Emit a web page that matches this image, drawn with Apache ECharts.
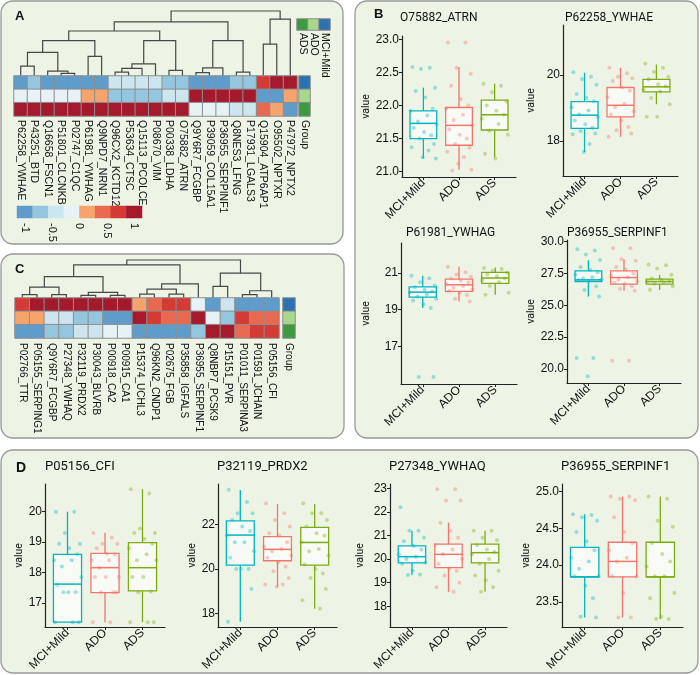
<!DOCTYPE html>
<html>
<head>
<meta charset="utf-8">
<script src="https://cdn.jsdelivr.net/npm/echarts@6/dist/echarts.min.js"></script>
<style>
html, body { margin: 0; padding: 0; background: #fff; }
#main { width: 700px; height: 675px; }
</style>
</head>
<body>
<div id="main"></div>
<script>
// ---- data ----
var GROUPS = ['MCI+Mild', 'ADO', 'ADS'];

// heatmap A (rows: MCI+Mild, ADO, ADS)
var heatA_labels = ['P62258_YWHAE', 'P43251_BTD', 'Q16658_FSCN1', 'P51801_CLCNKB', 'P02747_C1QC', 'P61981_YWHAG',
    'Q9NPD7_NRN1', 'Q96CX2_KCTD12', 'P53634_CTSC', 'Q15113_PCOLCE', 'P08670_VIM', 'P00338_LDHA', 'O75882_ATRN',
    'Q9Y6R7_FCGBP', 'P39059_COL15A1', 'P36955_SERPINF1', 'Q8NES3_LFNG', 'P17931_LGALS3', 'Q15904_ATP6AP1',
    'O95502_NPTXR', 'P47972_NPTX2'];
var heatA_mci = [-0.95, -0.7, -0.95, -0.95, -0.95, -0.95, -0.95, -0.4, -0.4, -0.4, -0.4, -0.7, -0.7, -0.95, -0.95, -0.95, -0.7, -0.7, 0.7, 0.95, 0.95];
var heatA_ado = [-0.15, -0.15, -0.15, -0.15, -0.15, 0.15, 0.15, -0.7, -0.7, -0.7, -0.7, -0.4, -0.4, 0.95, 0.95, 0.95, 0.95, 0.95, -0.95, -0.95, 0.15];
var heatA_ads = [0.95, 0.95, 0.95, 0.95, 0.95, 0.95, 0.95, 0.95, 0.95, 0.95, 0.95, 0.95, 0.95, -0.15, -0.15, -0.15, -0.4, -0.4, 0.4, 0.15, -0.95];
// merge tree: [height, left, right], leaves are column indexes
var treeA = [1.0,
    [0.833,
        [0.692,
            [0.545,
                [0.364, [0.152, 0, 1], [0.076, 2, [0.040, 3, 4]]],
                [0.303, 5, 6]],
            [0.545,
                [0.187, [0.116, [0.061, 7, 8], 9], 10],
                [0.086, 11, 12]]],
        [0.545,
            [0.126, [0.051, 13, 14], 15],
            [0.061, 16, 17]]],
    [0.874, [0.490, 18, 19], 20]];

// heatmap C
var heatC_labels = ['P02766_TTR', 'P05155_SERPING1', 'Q9Y6R7_FCGBP', 'P27348_YWHAQ', 'P32119_PRDX2', 'P30043_BLVRB',
    'P00918_CA2', 'P00915_CA1', 'P15374_UCHL3', 'Q96KN2_CNDP1', 'P02675_FGB', 'P35858_IGFALS', 'P36955_SERPINF1',
    'Q8NBP7_PCSK9', 'P15151_PVR', 'P01011_SERPINA3', 'P01591_JCHAIN', 'P05156_CFI'];
var heatC_mci = [0.7, 0.95, 0.95, 0.95, 0.95, 0.95, 0.95, 0.95, 0.15, 0.4, 0.7, 0.7, -0.15, -0.95, -0.4, -0.95, -0.95, -0.95];
var heatC_ado = [0.15, 0.15, -0.4, -0.4, -0.7, -0.7, -0.95, -0.95, 0.95, 0.7, 0.4, 0.4, 0.95, -0.15, -0.7, 0.7, 0.4, 0.4];
var heatC_ads = [-0.95, -0.95, -0.7, -0.7, -0.4, -0.4, -0.15, -0.15, -0.95, -0.95, -0.95, -0.95, -0.7, 0.95, 0.95, 0.4, 0.7, 0.7];
var treeC = [1.0,
    [0.870,
        [0.565,
            [0.287, [0.087, 0, 1], [0.087, 2, 3]],
            [0.148, [0.070, 4, 5], [0.070, 6, 7]]],
        [0.374,
            [0.235, [0.104, 8, 9], [0.104, 10, 11]],
            12]],
    [0.652,
        [0.304, 13, 14],
        [0.191, [0.087, 15, 16], 17]]];

// colour key
var keyValues = [-0.875, -0.625, -0.375, -0.125, 0.125, 0.375, 0.625, 0.875];
var keyTicks = [-1, -0.5, 0, 0.5, 1];

// box plots: [min, q1, median, q3, max] per group, and the points
var statsB1 = [[21.20, 21.50, 21.73, 21.92, 22.27], [21.03, 21.40, 21.70, 21.97, 22.58], [21.22, 21.63, 21.86, 22.08, 22.33]];
var pointsB1 = [
    [22.58, 22.57, 22.55, 22.27, 22.22, 22.12, 21.95, 21.92, 21.85, 21.76, 21.72, 21.66, 21.6, 21.55, 21.5, 21.42, 21.37, 21.32, 21.22, 21.2],
    [22.95, 22.95, 22.57, 22.48, 22.3, 22.1, 22.0, 21.95, 21.86, 21.78, 21.7, 21.64, 21.56, 21.5, 21.42, 21.36, 21.3, 21.22, 21.12, 21.03, 21.02],
    [22.33, 22.3, 22.2, 22.06, 22.0, 21.92, 21.86, 21.8, 21.72, 21.62, 21.56, 21.27, 21.2]];
var ticksB1 = [21.0, 21.5, 22.0, 22.5, 23.0];

var statsB2 = [[17.66, 18.38, 18.78, 19.19, 20.07], [18.12, 18.73, 19.08, 19.62, 20.22], [19.11, 19.49, 19.64, 19.87, 20.32]];
var pointsB2 = [
    [20.08, 19.95, 19.88, 19.7, 19.42, 19.3, 19.2, 19.02, 18.92, 18.8, 18.72, 18.62, 18.5, 18.4, 18.3, 18.22, 18.2, 17.9, 17.66],
    [20.22, 20.05, 19.95, 19.9, 19.82, 19.62, 19.52, 19.32, 19.12, 19.02, 18.9, 18.8, 18.62, 18.42, 18.32, 18.22, 18.12],
    [20.35, 20.22, 20.1, 19.95, 19.87, 19.72, 19.66, 19.56, 19.5, 19.3, 19.11, 18.73, 18.73]];
var ticksB2 = [18, 20];

var statsB3 = [[19.09, 19.69, 19.96, 20.25, 20.85], [19.45, 20.0, 20.36, 20.67, 21.35], [19.82, 20.44, 20.73, 21.04, 21.3]];
var pointsB3 = [
    [20.85, 20.72, 20.5, 20.32, 20.22, 20.1, 20.0, 19.92, 19.82, 19.72, 19.6, 19.5, 19.3, 19.1, 15.33, 15.33],
    [21.35, 21.05, 20.92, 20.8, 20.7, 20.6, 20.5, 20.42, 20.3, 20.2, 20.1, 20.02, 19.92, 19.8, 19.6, 19.45],
    [21.28, 21.22, 21.12, 21.02, 20.92, 20.82, 20.72, 20.62, 20.5, 20.3, 19.92, 19.82]];
var ticksB3 = [17, 19, 21];

var statsB4 = [[25.69, 26.87, 27.0, 27.7, 28.54], [26.14, 26.66, 27.18, 27.7, 28.62], [26.21, 26.66, 26.87, 27.05, 27.39]];
var pointsB4 = [
    [29.4, 29.3, 29.0, 28.55, 28.0, 27.8, 27.6, 27.4, 27.2, 27.1, 27.02, 26.98, 26.9, 26.5, 26.2, 25.7, 20.86, 20.86, 19.43],
    [29.48, 29.48, 28.62, 28.5, 28.0, 27.8, 27.5, 27.3, 27.2, 27.02, 26.9, 26.8, 26.7, 26.5, 26.3, 26.15, 20.65, 20.65],
    [28.2, 28.15, 27.9, 27.4, 27.1, 27.0, 26.9, 26.86, 26.8, 26.7, 26.5, 26.22]];
var ticksB4 = [20.0, 22.5, 25.0, 27.5, 30.0];

var statsD1 = [[16.37, 16.37, 17.62, 18.6, 20.0], [16.37, 17.34, 18.16, 18.63, 19.31], [16.37, 17.4, 18.16, 18.98, 20.74]];
var pointsD1 = [
    [20.0, 20.0, 19.3, 18.95, 18.95, 18.8, 18.6, 18.4, 18.4, 18.2, 17.85, 17.6, 17.35, 17.35, 17.35, 16.37, 16.37, 16.37],
    [19.3, 19.15, 18.95, 18.95, 18.8, 18.62, 18.6, 18.4, 18.4, 18.15, 17.85, 17.85, 17.85, 17.35, 17.35, 17.35, 16.37, 16.37],
    [20.74, 20.6, 19.45, 19.3, 19.3, 19.1, 18.95, 18.8, 18.6, 18.4, 18.4, 17.85, 17.85, 17.38, 17.35, 16.37, 16.37, 16.37]];
var ticksD1 = [17, 18, 19, 20];

var statsD2 = [[17.63, 20.17, 21.52, 22.16, 23.54], [19.2, 20.37, 20.88, 21.45, 22.91], [18.22, 20.17, 21.19, 21.87, 22.91]];
var pointsD2 = [
    [23.55, 23.0, 22.5, 22.5, 22.2, 21.9, 21.7, 21.5, 21.2, 21.2, 20.8, 20.5, 20.0, 20.0, 20.0, 19.1, 17.63],
    [22.95, 22.5, 22.2, 21.9, 21.6, 21.5, 21.2, 21.0, 20.9, 20.8, 20.6, 20.5, 20.3, 20.1, 19.9, 19.6, 19.3, 19.3, 19.2],
    [22.95, 22.5, 22.5, 22.2, 21.9, 21.6, 21.5, 21.2, 20.9, 20.8, 20.6, 20.2, 20.0, 19.8, 19.6, 19.1, 18.6, 18.22]];
var ticksD2 = [18, 20, 22];

var statsD3 = [[19.32, 19.84, 20.1, 20.56, 21.2], [18.61, 19.64, 20.2, 20.63, 21.54], [18.61, 19.84, 20.27, 20.63, 21.2]];
var pointsD3 = [
    [22.19, 21.2, 21.2, 20.9, 20.75, 20.55, 20.4, 20.2, 20.1, 20.0, 19.85, 19.8, 19.5, 19.35, 19.32],
    [22.96, 22.96, 22.48, 22.48, 21.54, 21.2, 20.9, 20.6, 20.4, 20.2, 20.0, 19.8, 19.6, 19.5, 19.3, 19.0, 18.8, 18.61],
    [21.2, 21.2, 20.9, 20.8, 20.6, 20.4, 20.3, 20.2, 20.0, 19.8, 19.5, 19.3, 19.1, 18.8, 18.61]];
var ticksD3 = [18, 19, 20, 21, 22, 23];

var statsD4 = [[23.29, 23.84, 23.84, 24.24, 24.69], [23.29, 23.84, 24.05, 24.31, 24.93], [23.27, 23.84, 23.84, 24.31, 24.93]];
var pointsD4 = [
    [24.69, 24.68, 24.65, 24.6, 24.45, 24.32, 24.2, 24.1, 24.05, 23.95, 23.85, 23.85, 23.72, 23.55, 23.3, 23.29],
    [24.93, 24.93, 24.9, 24.88, 24.65, 24.45, 24.3, 24.2, 24.1, 24.05, 23.85, 23.85, 23.62, 23.29, 23.29],
    [24.93, 24.9, 24.6, 24.52, 24.3, 24.15, 24.05, 23.98, 23.85, 23.85, 23.62, 23.55, 23.3, 23.27, 23.27]];
var ticksD4 = [23.5, 24.0, 24.5, 25.0];

// horizontal jitter offsets
var JITTER = [-0.31, 0.18, -0.07, 0.33, -0.22, 0.05, 0.26, -0.36, 0.11, -0.15, 0.37, -0.27,
    0.02, 0.22, -0.11, 0.3, -0.33, 0.14, -0.02, 0.35, -0.19, 0.08, -0.29, 0.24];

// ---- styles ----
var GROUP_COLORS = ['#00b5c2', '#f3756b', '#7cab12'];
var GROUP_BAR_COLORS = ['#2c72b2', '#a7d88d', '#3e9a41'];
var HEAT_COLORS = ['#5e9ccb', '#94c6df', '#cce5ef', '#e6f2f6', '#f6a36c', '#e8694f', '#d43b35', '#a5192c'];
var PANEL_FILL = '#edf4e5';
var LABEL_FONT = '"Liberation Sans Narrow", "Liberation Sans", sans-serif';
var TICK_FONT = '"Liberation Sans", Arial, sans-serif';

var myChart = echarts.init(document.getElementById('main'));

var grids = [], xAxes = [], yAxes = [], series = [], titles = [];
var heatSeries = [], groupSeries = [];

function addGrid(b) {
    grids.push({left: b.left, top: b.top, width: b.width, height: b.height, containLabel: false});
    return grids.length - 1;
}

function addHeatmap(box, labels, rows, label, target) {
    var gi = addGrid(box);
    xAxes.push({
        gridIndex: gi, type: 'category', data: labels, position: 'bottom',
        axisLine: {show: false}, axisTick: {show: false}, splitLine: {show: false},
        axisLabel: label ? {show: true, interval: 0, rotate: -90, margin: label.margin, fontSize: label.size,
            fontFamily: label.font, color: '#111'} : {show: false}
    });
    yAxes.push({gridIndex: gi, type: 'category', data: rows.map(function (r, i) { return i; }), inverse: true, show: false});
    var data = [];
    rows.forEach(function (row, r) {
        row.forEach(function (v, c) { data.push([c, r, v]); });
    });
    series.push({
        type: 'heatmap', xAxisIndex: xAxes.length - 1, yAxisIndex: yAxes.length - 1, data: data,
        itemStyle: {borderColor: '#8e8e8e', borderWidth: 1}, emphasis: {disabled: true}, silent: true
    });
    target.push(series.length - 1);
}

function flattenTree(node, segs) {
    if (typeof node === 'number') return {x: node, h: 0};
    var l = flattenTree(node[1], segs);
    var r = flattenTree(node[2], segs);
    segs.push([l.x, l.h, r.x, r.h, node[0]]);
    return {x: (l.x + r.x) / 2, h: node[0]};
}

function addDendro(box, tree, n) {
    var segs = [];
    flattenTree(tree, segs);
    var gi = addGrid(box);
    xAxes.push({gridIndex: gi, type: 'value', min: -0.5, max: n - 0.5, show: false});
    yAxes.push({gridIndex: gi, type: 'value', min: 0, max: 1, show: false});
    series.push({
        type: 'custom', xAxisIndex: xAxes.length - 1, yAxisIndex: yAxes.length - 1, data: segs, silent: true,
        renderItem: function (params, api) {
            var a = api.coord([api.value(0), api.value(1)]);
            var b = api.coord([api.value(0), api.value(4)]);
            var c = api.coord([api.value(2), api.value(4)]);
            var d = api.coord([api.value(2), api.value(3)]);
            return {type: 'polyline', shape: {points: [a, b, c, d]},
                style: {stroke: '#474747', lineWidth: 1.2, fill: null}};
        }
    });
}

function renderBox(params, api) {
    var x = api.value(0);
    var pMin = api.coord([x, api.value(1)]);
    var pQ1 = api.coord([x, api.value(2)]);
    var pMed = api.coord([x, api.value(3)]);
    var pQ3 = api.coord([x, api.value(4)]);
    var pMax = api.coord([x, api.value(5)]);
    var w = api.size([0.75, 0])[0];
    var color = GROUP_COLORS[params.dataIndex];
    return {
        type: 'group', children: [
            {type: 'line', shape: {x1: pMin[0], y1: pMin[1], x2: pQ1[0], y2: pQ1[1]}, style: {stroke: color, lineWidth: 1.3}},
            {type: 'line', shape: {x1: pQ3[0], y1: pQ3[1], x2: pMax[0], y2: pMax[1]}, style: {stroke: color, lineWidth: 1.3}},
            {type: 'rect', shape: {x: pQ3[0] - w / 2, y: pQ3[1], width: w, height: pQ1[1] - pQ3[1]},
                style: {fill: 'rgba(255,255,255,0.6)', stroke: color, lineWidth: 1.3}},
            {type: 'line', shape: {x1: pMed[0] - w / 2, y1: pMed[1], x2: pMed[0] + w / 2, y2: pMed[1]},
                style: {stroke: color, lineWidth: 1.5}}
        ]
    };
}

function addBoxPlot(p) {
    var gi = addGrid(p);
    xAxes.push({
        gridIndex: gi, type: 'value', min: 0.4, max: 3.6,
        axisLine: {show: true, onZero: false, lineStyle: {color: '#222', width: 1.2}},
        axisTick: {show: true, customValues: [1, 2, 3], length: 3, lineStyle: {color: '#222'}},
        axisLabel: {customValues: [1, 2, 3], rotate: 45, margin: 4, fontSize: 12, fontFamily: TICK_FONT, color: '#111',
            formatter: function (v) { return GROUPS[Math.round(v) - 1]; }},
        splitLine: {show: false}
    });
    yAxes.push({
        gridIndex: gi, type: 'value', min: p.yMin, max: p.yMax,
        name: 'value', nameLocation: 'middle', nameGap: p.nameGap,
        nameTextStyle: {fontSize: 10.5, fontFamily: 'Roboto, sans-serif', color: '#111'},
        axisLine: {show: true, onZero: false, lineStyle: {color: '#222', width: 1.2}},
        axisTick: {show: true, customValues: p.ticks, length: 3, lineStyle: {color: '#222'}},
        axisLabel: {customValues: p.ticks, margin: 3, fontSize: 12, fontFamily: TICK_FONT, color: '#111',
            formatter: function (v) { return v.toFixed(p.dec); }},
        splitLine: {show: false}
    });
    var xi = xAxes.length - 1, yi = yAxes.length - 1;
    series.push({
        type: 'custom', xAxisIndex: xi, yAxisIndex: yi, silent: true, renderItem: renderBox,
        data: p.stats.map(function (s, g) { return [g + 1].concat(s); })
    });
    p.points.forEach(function (vals, g) {
        series.push({
            type: 'scatter', xAxisIndex: xi, yAxisIndex: yi, silent: true, symbolSize: 4,
            itemStyle: {color: GROUP_COLORS[g], opacity: 0.38},
            data: vals.map(function (v, k) { return [g + 1 + JITTER[k % JITTER.length], v]; })
        });
    });
    titles.push({text: p.title, left: p.titleLeft, top: p.titleTop, padding: 0,
        textStyle: {fontSize: p.titleSize, fontWeight: 'normal', fontFamily: 'Roboto, sans-serif', color: '#111'}});
}

// ---- panel A ----
addDendro({left: 14, top: 11, width: 283, height: 65}, treeA, heatA_labels.length);
addHeatmap({left: 14, top: 76, width: 283, height: 40}, heatA_labels, [heatA_mci, heatA_ado, heatA_ads],
    {margin: 4, size: 10.5, font: LABEL_FONT}, heatSeries);
addHeatmap({left: 299, top: 76, width: 11, height: 40}, ['Group'], [[0], [1], [2]],
    {margin: 4, size: 10.5, font: LABEL_FONT}, groupSeries);
addHeatmap({left: 297, top: 19, width: 33, height: 11}, ['ADS', 'ADO', 'MCI+Mild'], [[2, 1, 0]],
    {margin: 3, size: 10.5, font: TICK_FONT}, groupSeries);

// colour key
(function () {
    var gi = addGrid({left: 17, top: 206, width: 125, height: 12});
    xAxes.push({gridIndex: gi, type: 'category', data: keyValues.map(String), show: false});
    var ci = xAxes.length - 1;
    xAxes.push({
        gridIndex: gi, type: 'value', min: -8 / 7, max: 8 / 7, position: 'bottom',
        axisLine: {show: false}, axisTick: {show: false}, splitLine: {show: false},
        axisLabel: {customValues: keyTicks, rotate: -90, margin: 5, fontSize: 11, fontFamily: TICK_FONT, color: '#111',
            formatter: function (v) { return String(v); }}
    });
    yAxes.push({gridIndex: gi, type: 'category', data: [0], show: false});
    series.push({
        type: 'heatmap', xAxisIndex: ci, yAxisIndex: yAxes.length - 1, silent: true,
        data: keyValues.map(function (v, i) { return [i, 0, v]; }), itemStyle: {borderWidth: 0}
    });
    heatSeries.push(series.length - 1);
})();

// ---- panel C ----
addDendro({left: 15, top: 260, width: 264, height: 38}, treeC, heatC_labels.length);
addHeatmap({left: 15, top: 298, width: 264, height: 40}, heatC_labels, [heatC_mci, heatC_ado, heatC_ads],
    {margin: 5, size: 10, font: LABEL_FONT}, heatSeries);
addHeatmap({left: 283, top: 298, width: 12, height: 40}, ['Group'], [[0], [1], [2]],
    {margin: 5, size: 10, font: LABEL_FONT}, groupSeries);

// ---- panels B and D ----
var boxPlots = [
    {title: 'O75882_ATRN', stats: statsB1, points: pointsB1, ticks: ticksB1, dec: 1, yMin: 20.92, yMax: 23.05,
        left: 402, top: 36, width: 114, height: 141, nameGap: 29, titleLeft: 400, titleTop: 12, titleSize: 12},
    {title: 'P62258_YWHAE', stats: statsB2, points: pointsB2, ticks: ticksB2, dec: 0, yMin: 16.93, yMax: 21.52,
        left: 563, top: 25, width: 115, height: 151, nameGap: 26, titleLeft: 565, titleTop: 12, titleSize: 12},
    {title: 'P61981_YWHAG', stats: statsB3, points: pointsB3, ticks: ticksB3, dec: 0, yMin: 14.95, yMax: 22.64,
        left: 401, top: 243, width: 116, height: 141, nameGap: 29, titleLeft: 406, titleTop: 227, titleSize: 12},
    {title: 'P36955_SERPINF1', stats: statsB4, points: pointsB4, ticks: ticksB4, dec: 1, yMin: 18.9, yMax: 30.13,
        left: 567, top: 240, width: 114, height: 143, nameGap: 29, titleLeft: 567, titleTop: 227, titleSize: 12},
    {title: 'P05156_CFI', stats: statsD1, points: pointsD1, ticks: ticksD1, dec: 0, yMin: 16.21, yMax: 20.91,
        left: 45, top: 484, width: 120, height: 143, nameGap: 19, titleLeft: 45, titleTop: 460, titleSize: 13},
    {title: 'P32119_PRDX2', stats: statsD2, points: pointsD2, ticks: ticksD2, dec: 0, yMin: 17.4, yMax: 23.81,
        left: 218, top: 484, width: 119, height: 143, nameGap: 20, titleLeft: 217, titleTop: 460, titleSize: 13},
    {title: 'P27348_YWHAQ', stats: statsD3, points: pointsD3, ticks: ticksD3, dec: 0, yMin: 17.12, yMax: 23.18,
        left: 390, top: 484, width: 117, height: 143, nameGap: 24, titleLeft: 389, titleTop: 460, titleSize: 13},
    {title: 'P36955_SERPINF1', stats: statsD4, points: pointsD4, ticks: ticksD4, dec: 1, yMin: 23.16, yMax: 25.1,
        left: 562, top: 484, width: 121, height: 143, nameGap: 29, titleLeft: 561, titleTop: 460, titleSize: 13}
];
boxPlots.forEach(addBoxPlot);

// ---- panel backgrounds and letters ----
function panel(x, y, w, h) {
    return {type: 'rect', z: -10, shape: {x: x, y: y, width: w, height: h, r: 12},
        style: {fill: PANEL_FILL, stroke: '#999', lineWidth: 1.3}};
}
function letter(t, x, y, size) {
    return {type: 'text', z: 10, x: x, y: y,
        style: {text: t, fontSize: size, fontWeight: 'bold', fontFamily: TICK_FONT, fill: '#111'}};
}

var option = {
    animation: false,
    backgroundColor: '#fff',
    title: titles,
    grid: grids,
    xAxis: xAxes,
    yAxis: yAxes,
    visualMap: [
        {type: 'piecewise', show: false, dimension: 2, seriesIndex: heatSeries,
            pieces: HEAT_COLORS.map(function (c, i) {
                return {min: -1 + i * 0.25, max: -0.75 + i * 0.25, color: c};
            })},
        {type: 'piecewise', show: false, dimension: 2, seriesIndex: groupSeries,
            pieces: GROUP_BAR_COLORS.map(function (c, i) { return {value: i, color: c}; })}
    ],
    graphic: [
        panel(1, 1, 342, 243),
        panel(355, 1, 343, 437),
        panel(1, 254, 343, 184),
        panel(1, 450, 697, 223),
        letter('A', 15, 10, 13),
        letter('B', 374, 8, 13),
        letter('C', 15, 263, 13),
        letter('D', 16, 461, 14)
    ],
    series: series
};

myChart.setOption(option);
</script>
</body>
</html>
